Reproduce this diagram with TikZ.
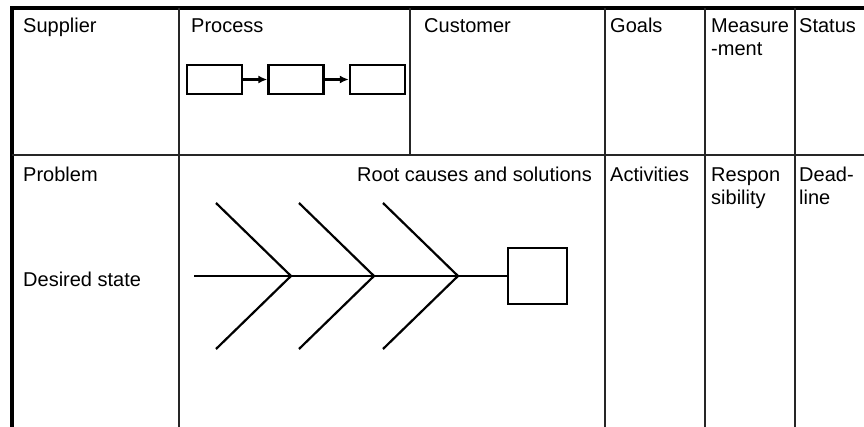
\documentclass[tikz,border=0pt]{standalone}
\usepackage{fontspec}
\setmainfont{Liberation Sans}
\usetikzlibrary{arrows.meta}
\begin{document}
\begin{tikzpicture}[x=1pt,y=-1pt,
  frame/.style={line width=3.2pt,black},
  grid/.style={line width=1.5pt,black!85},
  box/.style={draw,line width=2.4pt,minimum width=55pt,minimum height=29pt,inner sep=0pt},
  flow/.style={line width=2.2pt,-{Latex[length=9pt,width=8pt]}},
  bone/.style={line width=2.2pt},
  lbl/.style={inner sep=0pt,anchor=base west,align=left,
    font=\fontsize{20}{23}\selectfont}]
\useasboundingbox (0,0) rectangle (864,427);

% table frame and rulings
\draw[frame] (864,8) -- (12,8) -- (12,427);
\draw[grid] (12,155) -- (864,155);
\draw[grid] (179,8) -- (179,427);
\draw[grid] (410,8) -- (410,155);
\draw[grid] (605,8) -- (605,427);
\draw[grid] (705,8) -- (705,427);
\draw[grid] (795,8) -- (795,427);

% column headings, upper row (two-line labels sit on their last baseline)
\node[lbl] (supplier) at (23,33) {Supplier};
\node[lbl] (process) at (191,33) {Process};
\node[lbl] (customer) at (424,33) {Customer};
\node[lbl] (goals) at (610,33) {Goals};
\node[lbl] (measure) at (711,56) {Measure\\-ment};
\node[lbl] (status) at (799,33) {Status};

% column headings, lower row
\node[lbl] (problem) at (23,182) {Problem};
\node[lbl,anchor=base east] (root) at (592,182) {Root causes and solutions};
\node[lbl] (activities) at (610,182) {Activities};
\node[lbl] (resp) at (711,205) {Respon\\sibility};
\node[lbl] (deadline) at (799,205) {Dead-\\line};
\node[lbl] (desired) at (23,287) {Desired state};

% process chain
\node[box] (p1) at (214.5,79.5) {};
\node[box] (p2) at (296,79.5) {};
\node[box] (p3) at (377.5,79.5) {};
\draw[flow] (p1) -- (p2);
\draw[flow] (p2) -- (p3);

% fishbone
\node[draw,line width=2.4pt,minimum width=59pt,minimum height=56pt,inner sep=0pt] (head) at (537.5,276) {};
\coordinate (tail) at (194,276);
\draw[bone] (tail) -- (head);
\foreach \v/\n in {291/a,374/b,458/c} {
  \coordinate (v\n) at (\v,276);
  \coordinate (u\n) at (\v-75,203);
  \coordinate (l\n) at (\v-75,349);
  \draw[bone] (u\n) -- (v\n) -- (l\n);
}
\end{tikzpicture}
\end{document}
